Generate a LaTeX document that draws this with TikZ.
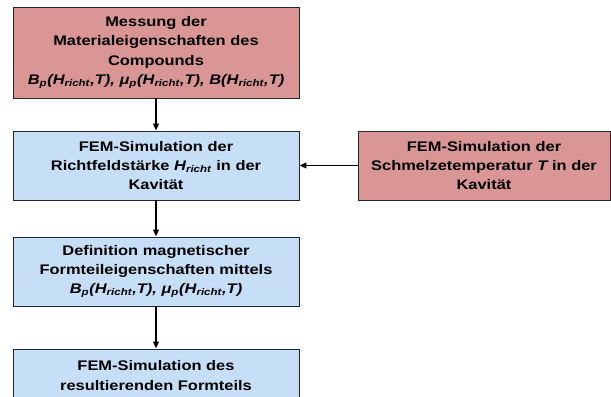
\documentclass[tikz,border=0pt]{standalone}
\usepackage{fontspec}
\setmainfont[FakeStretch=1.18]{Liberation Sans}
\usepackage{xcolor}
\usetikzlibrary{arrows.meta,positioning}
\definecolor{boxred}{HTML}{D99694}
\definecolor{boxblue}{HTML}{C6DFF7}
\newcommand{\isub}[1]{\textsubscript{\itshape #1}}

\begin{document}
\begin{tikzpicture}[
  font=\fontsize{9.9}{13.6}\selectfont\bfseries,
  box/.style={draw=black!85, line width=0.7pt, align=center, inner sep=0pt, minimum width=7.15cm, text width=7.1cm, minimum height=1.725cm},
  redbox/.style={box, fill=boxred},
  bluebox/.style={box, fill=boxblue},
  arr/.style={-{Triangle[length=1.7mm,width=1.4mm]}, line width=1.4pt}
]
\useasboundingbox (0,0) rectangle (15.275,-9.9);
\begin{scope}
\clip (0,0) rectangle (15.275,-9.9);
% Measurement
\node[redbox, minimum height=2.275cm] (mess) at (3.9,-1.3125) {Messung der\\Materialeigenschaften des\\Compounds\\{\itshape B\isub{p}(H\isub{richt},T), μ\isub{p}(H\isub{richt},T), B(H\isub{richt},T)}};
% Simulation chain
\node[bluebox] (feld) at (3.9,-4.1375) {FEM-Simulation der\\Richtfeldstärke {\itshape H\isub{richt}} in der\\Kavität};
\node[redbox, minimum width=6.3cm, text width=6.2cm] (temp) at (12.1,-4.1375) {FEM-Simulation der\\Schmelzetemperatur {\itshape T} in der\\Kavität};
\node[bluebox] (def) at (3.9,-6.7875) {Definition magnetischer\\Formteileigenschaften mittels\\{\itshape B\isub{p}(H\isub{richt},T), μ\isub{p}(H\isub{richt},T)}};
\node[bluebox, minimum height=1.325cm] (form) at (3.9,-9.3875) {FEM-Simulation des\\resultierenden Formteils};
% Connectors
\draw[arr] (mess) -- (feld);
\draw[arr] (temp) -- (feld);
\draw[arr] (feld) -- (def);
\draw[arr] (def) -- (form);
\end{scope}
\end{tikzpicture}
\end{document}
